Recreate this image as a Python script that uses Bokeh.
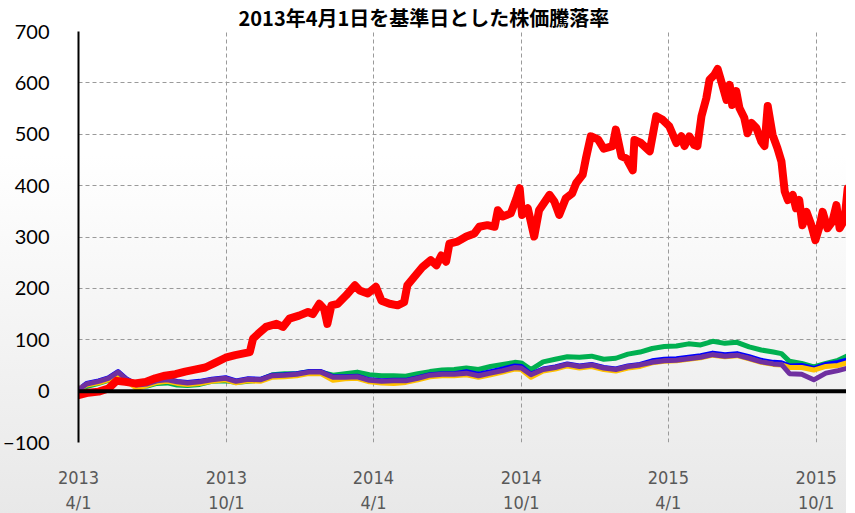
from bokeh.plotting import figure
from bokeh.models import Range1d, FixedTicker, Span, ColumnDataSource
from bokeh.embed import file_html
from bokeh.resources import INLINE

# ---- data (days since 2013-04-01, % change vs. 2013-04-01) ----
red_day = [0, 12, 25, 37, 47, 58, 70, 83, 95, 107, 120, 132, 144, 157, 169, 182, 194, 206, 212, 216,
           222, 232, 245, 253, 261, 273, 284, 290, 298, 304, 308, 313, 321, 331, 342, 348, 358, 368, 375, 385,
           395, 403, 407, 418, 426, 436, 443, 449, 455, 459, 469, 480, 490, 496, 506, 515, 519, 525, 535, 542,
           546, 549, 556, 564, 570, 583, 589, 595, 603, 611, 616, 624, 628, 634, 643, 650, 661, 665, 672, 678,
           686, 688, 696, 707, 715, 723, 731, 740, 746, 750, 756, 762, 766, 771, 777, 781, 787, 791, 795, 802,
           806, 809, 814, 818, 824, 828, 833, 839, 845, 849, 853, 859, 865, 870, 874, 878, 884, 888, 892, 896,
           901, 907, 912, 917, 921, 927, 933, 938, 942, 948, 952, 960]
red = [-8, -3, -1, 5, 20, 18, 15, 18, 25, 30, 33, 38, 42, 46, 55, 65, 70, 74, 76, 102,
       111, 125, 131, 125, 141, 147, 154, 150, 170, 160, 131, 167, 170, 186, 206, 196, 190, 203, 176, 170,
       167, 173, 206, 227, 242, 255, 245, 264, 252, 287, 291, 301, 307, 320, 323, 320, 352, 340, 346, 375,
       395, 343, 356, 301, 352, 382, 369, 343, 375, 385, 405, 421, 453, 496, 490, 472, 477, 509, 457, 453,
       430, 489, 483, 467, 535, 528, 516, 483, 496, 477, 496, 479, 477, 535, 570, 606, 616, 627, 606, 567,
       596, 557, 584, 551, 532, 502, 522, 512, 486, 477, 555, 499, 473, 447, 389, 372, 382, 356, 372, 323,
       349, 323, 294, 320, 349, 317, 330, 362, 317, 333, 395, 356]

day = [0, 10, 25, 37, 49, 60, 72, 85, 97, 110, 122, 135, 150, 165, 182, 195, 210, 225, 240, 255,
       270, 285, 300, 315, 330, 345, 360, 375, 390, 405, 420, 435, 450, 465, 480, 495, 510, 525, 540, 548,
       560, 575, 590, 605, 620, 635, 650, 665, 680, 695, 710, 725, 740, 755, 770, 785, 800, 815, 830, 845,
       860, 870, 880, 895, 910, 925, 940, 955, 960]
green = [-2, 9, 15, 21, 33, 19, 9, 10, 15, 16, 12, 11, 13, 19, 20, 17, 19, 22, 32, 34,
         34, 38, 37, 31, 34, 37, 32, 30, 30, 29, 34, 38, 41, 42, 45, 42, 48, 52, 56, 55,
         42, 57, 62, 67, 66, 68, 62, 64, 72, 76, 83, 87, 88, 92, 90, 97, 93, 95, 86, 80,
         76, 73, 58, 54, 47, 54, 60, 71, 69]
purple = [2, 14, 19, 25, 37, 22, 12, 14, 20, 22, 18, 16, 18, 22, 25, 19, 23, 22, 30, 31,
          33, 37, 37, 27, 27, 28, 21, 19, 20, 20, 25, 31, 33, 33, 35, 30, 35, 40, 46, 45,
          32, 42, 46, 52, 48, 51, 45, 42, 48, 51, 56, 59, 60, 63, 66, 71, 68, 70, 64, 57,
          53, 52, 34, 33, 22, 35, 40, 46, 45]
blue = [3, 15, 20, 26, 38, 23, 13, 15, 21, 23, 19, 17, 19, 23, 26, 20, 24, 23, 31, 32,
        34, 38, 38, 28, 28, 29, 22, 20, 21, 21, 26, 32, 34, 34, 38, 33, 38, 43, 49, 48,
        33, 43, 47, 53, 49, 52, 46, 43, 49, 52, 59, 62, 63, 66, 69, 74, 71, 73, 67, 60,
        56, 55, 49, 50, 44, 52, 56, 62, 61]
yellow = [4, 12, 16, 22, 34, 19, 5, 11, 17, 19, 15, 13, 15, 19, 22, 16, 20, 19, 27, 28,
          30, 34, 34, 21, 24, 25, 18, 16, 15, 17, 22, 28, 30, 30, 32, 27, 32, 37, 43, 42,
          27, 39, 43, 49, 45, 48, 42, 39, 45, 48, 55, 58, 59, 62, 65, 70, 67, 69, 63, 56,
          52, 51, 46, 46, 41, 48, 50, 57, 57]

tick_days = [0, 183, 365, 548, 730, 913]
tick_labels = ["2013\n4/1", "2013\n10/1", "2014\n4/1", "2014\n10/1", "2015\n4/1", "2015\n10/1"]
y_ticks = [-100, 0, 100, 200, 300, 400, 500, 600, 700]
title_text = "2013年4月1日を基準日とした株価騰落率"

p = figure(width=839, height=498, frame_width=768, frame_height=411,
           output_backend="svg", toolbar_location=None,
           x_range=Range1d(0, 950.5), y_range=Range1d(-100, 700),
           min_border_left=71, min_border_right=0, min_border_top=0, min_border_bottom=0,
           title=title_text)
p.background_fill_alpha = 0
p.border_fill_alpha = 0
p.outline_line_color = None
p.styles = {"background": "linear-gradient(to bottom, #ffffff 30%, #e8e8e8 100%)"}

p.title.text_font = "Noto Sans CJK JP"
p.title.text_font_size = "20px"
p.title.text_font_style = "bold"
p.title.text_color = "black"
p.title.align = "left"
p.title.offset = 160
p.title.standoff = 0

# axes
p.xaxis.ticker = FixedTicker(ticks=tick_days)
p.xaxis.major_label_overrides = {d: l for d, l in zip(tick_days, tick_labels)}
p.xaxis.axis_line_color = None
p.xaxis.major_tick_line_color = None
p.xaxis.minor_tick_line_color = None
p.xaxis.major_label_text_font = "'Liberation Sans Narrow', 'DejaVu Sans Condensed', 'Liberation Sans', sans-serif"
p.xaxis.major_label_text_font_size = "18px"
p.xaxis.major_label_text_color = "#595959"
p.xaxis.major_label_standoff = 18

p.yaxis.ticker = FixedTicker(ticks=y_ticks)
p.yaxis.axis_line_color = "black"
p.yaxis.axis_line_width = 2
p.yaxis.major_tick_line_color = None
p.yaxis.minor_tick_line_color = None
p.yaxis.major_label_text_font = "Lato"
p.yaxis.major_label_text_font_size = "20px"
p.yaxis.major_label_text_color = "black"
p.yaxis.major_label_standoff = 23

for g in (p.xgrid, p.ygrid):
    g.grid_line_color = "#9a9a9a"
    g.grid_line_dash = "4 3"
    g.grid_line_width = 1
p.xgrid.ticker = FixedTicker(ticks=tick_days)
p.ygrid.ticker = FixedTicker(ticks=y_ticks)

p.add_layout(Span(location=0, dimension="width", line_color="black", line_width=4))

src = ColumnDataSource(dict(day=day, green=green, blue=blue, yellow=yellow, purple=purple))
p.line("day", "green", source=src, line_color="#00B050", line_width=5, line_join="round")
p.line("day", "blue", source=src, line_color="#0000FF", line_width=5, line_join="round")
p.line("day", "yellow", source=src, line_color="#FFC000", line_width=5, line_join="round")
p.line("day", "purple", source=src, line_color="#7030A0", line_width=5, line_join="round")
p.line(red_day, red, line_color="#FF0000", line_width=8, line_join="round", line_cap="round")

open("out.html", "w").write(file_html(p, INLINE))
